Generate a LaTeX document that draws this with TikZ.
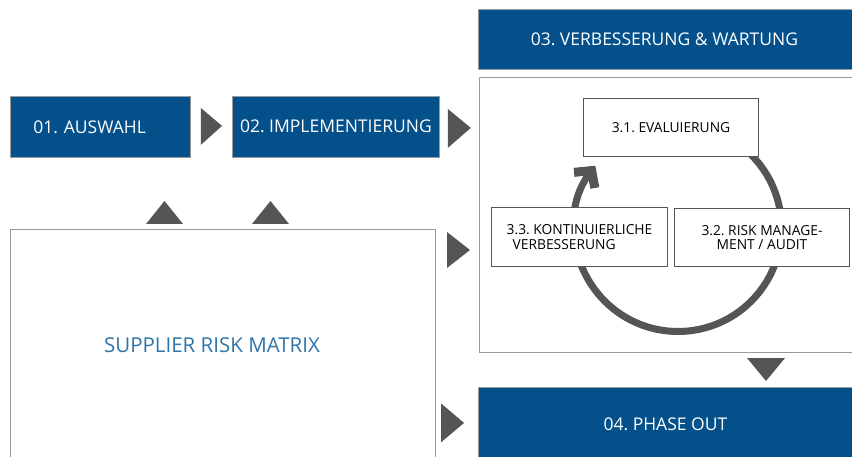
\documentclass[tikz,border=0pt]{standalone}
\usepackage{fontspec}
\setmainfont{Open Sans}
\frenchspacing
\usetikzlibrary{arrows.meta,calc}
\definecolor{dblue}{HTML}{03508A}
\definecolor{tgray}{HTML}{555555}
\definecolor{sblue}{HTML}{2F75A8}
\definecolor{bgray}{HTML}{9A9A9A}
\begin{document}
\begin{tikzpicture}[x=1pt,y=-1pt,
  phase/.style={draw=bgray, fill=dblue, text=white, line width=0.8pt, anchor=north west,
    inner sep=0pt, font=\fontsize{17.5}{20}\selectfont},
  sub/.style={draw=tgray, fill=white, line width=1pt, anchor=north west, inner sep=0pt,
    font=\fontsize{13.8}{14.5}\selectfont, align=center},
  frame/.style={draw=bgray, line width=1pt, fill=white, anchor=north west, inner sep=0pt},
  tri/.style={fill=tgray}]
\useasboundingbox (0,0) rectangle (852,457);
\fill[white] (0,0) rectangle (852,457);

% phase boxes
\node[phase, minimum height=61pt, text width=134pt, inner xsep=23pt, align=left] (a) at (10,96) {01. AUSWAHL};
\node[phase, minimum width=207pt, minimum height=61pt] (b) at (232,96) {\raisebox{1.5pt}{02. IMPLEMENTIERUNG}};
\node[phase, minimum width=380pt, minimum height=60pt] (c) at (478,9) {\hspace*{-8pt}03. VERBESSERUNG \& WARTUNG};
\node[phase, minimum width=380pt, minimum height=76pt] (d) at (478,387) {\hspace*{-6pt}\raisebox{2pt}{04. PHASE OUT}};

% container
\node[frame, minimum width=380pt, minimum height=275pt] (box) at (479,77) {};

% supplier matrix frame
\node[frame, minimum width=425pt, minimum height=240pt] (srm) at (10,229) {};
\node[text=sblue, font=\fontsize{20.5}{24}\selectfont] (srmt) at (212,345) {SUPPLIER RISK MATRIX};

% cycle arrow
\coordinate (cc) at (678,228);
\draw[line width=7pt, tgray, -{Straight Barb[length=12pt,width=26pt,line width=9pt,line cap=butt,line join=miter]}]
  ($(cc)+(-45:103.5)$) arc[start angle=-45, end angle=217, radius=103.5];

% sub boxes
\node[sub, minimum width=175pt, minimum height=58pt] (s1) at (583,98) {3.1. EVALUIERUNG};
\node[sub, minimum width=176pt, minimum height=59pt, align=left] (s3) at (491,207) {3.3. KONTINUIERLICHE\\\hspace*{6pt}VERBESSERUNG};
\node[sub, minimum width=175pt, minimum height=58pt] (s2) at (674,208) {3.2. RISK MANAGE-\\MENT / AUDIT};

% triangles
\fill[tri] ($(a.east)+(10,-19)$) -- ($(a.east)+(10,18)$) -- ($(b.west)+(-10,-1)$) -- cycle;
\fill[tri] ($(b.east)+(8,-18)$) -- ($(b.east)+(8,21)$) -- ($(b.east)+(31,1)$) -- cycle;
\fill[tri] ($(srm.north west)+(136,-5)$) -- ($(srm.north west)+(173,-5)$) -- ($(srm.north west)+(154.5,-28)$) -- cycle;
\fill[tri] ($(srm.north west)+(242,-5)$) -- ($(srm.north west)+(279,-5)$) -- ($(srm.north west)+(260.5,-28)$) -- cycle;
\fill[tri] ($(srm.north east)+(11,3)$) -- ($(srm.north east)+(11,39)$) -- ($(srm.north east)+(34,21)$) -- cycle;
\fill[tri] ($(d.west)+(-37,-22)$) -- ($(d.west)+(-37,17)$) -- ($(d.west)+(-14,-2.5)$) -- cycle;
\fill[tri] ($(box.south west)+(268,5)$) -- ($(box.south west)+(306,5)$) -- ($(box.south west)+(287,28)$) -- cycle;
\end{tikzpicture}
\end{document}
